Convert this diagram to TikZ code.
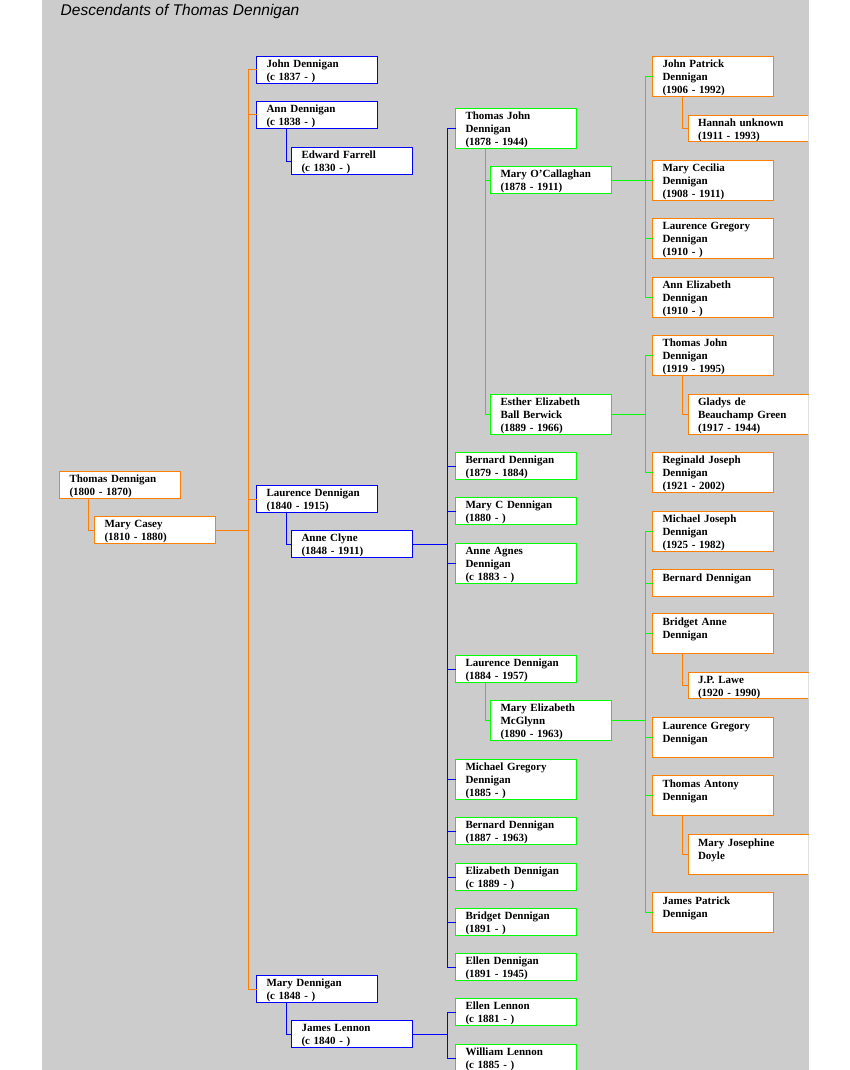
\documentclass[tikz,border=0pt]{standalone}
\usepackage{fontspec}
\setmainfont{Liberation Serif}
\newfontfamily\titlefont{Liberation Sans}
\usetikzlibrary{calc}
\definecolor{org}{HTML}{FF8000}
\definecolor{grn}{HTML}{00FF00}
\definecolor{blu}{HTML}{0000FF}
\definecolor{panel}{HTML}{CCCCCC}
\newcommand\boxfont{\fontsize{11}{13}\selectfont\bfseries}
\newcommand\topstrut{\rule{0pt}{11pt}}
\newcommand\botstrut{\rule[-2pt]{0pt}{0pt}}
\begin{document}
\begin{tikzpicture}[x=1pt,y=-1pt,
  box/.style={rectangle, draw, fill=white, line width=1pt, anchor=north west,
    inner xsep=0pt, inner ysep=0pt, outer sep=0pt, text width=101pt,
    minimum width=121pt, minimum height=27pt, align=left, font=\boxfont,
    execute at begin node=\topstrut, execute at end node=\botstrut},
  tall/.style={minimum height=40pt},
  ob/.style={box, draw=org},
  bb/.style={box, draw=blu},
  gb/.style={box, draw=grn},
  sb/.style={box, draw=none, minimum width=120pt},
  ol/.style={draw=org, line width=1pt},
  bl/.style={draw=blu, line width=1pt},
  gl/.style={draw=grn, line width=1pt},
  edge/.style={draw=black!12, line width=1pt}]
\useasboundingbox (0,0) rectangle (850,1070);
\fill[panel] (42,0) rectangle (809,1070);
\node[anchor=base west, font=\titlefont\itshape\fontsize{15.5}{17}\selectfont, inner sep=0pt] (title) at (60.5,15.5) {Descendants of Thomas Dennigan};

% bus coordinates
\coordinate (s1) at (88.5,0);
\coordinate (t2) at (248.5,0);
\coordinate (s2) at (286.5,0);
\coordinate (b3) at (447.5,0);
\coordinate (s3) at (485.5,0);
\coordinate (g4) at (645.5,0);
\coordinate (s4) at (682.5,0);

% ---------- generation 1
\node[ob] (thomas) at (59.5,471.5) {Thomas Dennigan\\(1800 - 1870)};
\node[ob] (casey) at (94.5,516.5) {Mary Casey\\(1810 - 1880)};

% ---------- generation 2
\node[bb] (john) at (256.5,56.5) {John Dennigan\\(c 1837 - )};
\node[bb] (ann) at (256.5,101.5) {Ann Dennigan\\(c 1838 - )};
\node[bb] (edward) at (291.5,147.5) {Edward Farrell\\(c 1830 - )};
\node[bb] (laurence) at (256.5,485.5) {Laurence Dennigan\\(1840 - 1915)};
\node[bb] (clyne) at (291.5,530.5) {Anne Clyne\\(1848 - 1911)};
\node[bb] (maryD) at (256.5,975.5) {Mary Dennigan\\(c 1848 - )};
\node[bb] (lennon) at (291.5,1020.5) {James Lennon\\(c 1840 - )};

% ---------- generation 3
\node[gb,tall] (tj) at (455.5,108.5) {Thomas John\\Dennigan\\(1878 - 1944)};
\node[gb] (moc) at (490.5,166.5) {Mary O'Callaghan\\(1878 - 1911)};
\node[gb,tall] (esther) at (490.5,394.5) {Esther Elizabeth\\Ball Berwick\\(1889 - 1966)};
\node[gb] (bern1) at (455.5,452.5) {Bernard Dennigan\\(1879 - 1884)};
\node[gb] (maryC) at (455.5,497.5) {Mary C Dennigan\\(1880 - )};
\node[gb,tall] (anne) at (455.5,543.5) {Anne Agnes\\Dennigan\\(c 1883 - )};
\node[gb] (lau2) at (455.5,655.5) {Laurence Dennigan\\(1884 - 1957)};
\node[gb,tall] (mcg) at (490.5,700.5) {Mary Elizabeth\\McGlynn\\(1890 - 1963)};
\node[gb,tall] (mich) at (455.5,759.5) {Michael Gregory\\Dennigan\\(1885 - )};
\node[gb] (bern2) at (455.5,817.5) {Bernard Dennigan\\(1887 - 1963)};
\node[gb] (eliz) at (455.5,863.5) {Elizabeth Dennigan\\(c 1889 - )};
\node[gb] (brid) at (455.5,908.5) {Bridget Dennigan\\(1891 - )};
\node[gb] (ellenD) at (455.5,953.5) {Ellen Dennigan\\(1891 - 1945)};
\node[gb] (ellenL) at (455.5,998.5) {Ellen Lennon\\(c 1881 - )};
\node[gb] (william) at (455.5,1044.5) {William Lennon\\(c 1885 - )};

% ---------- generation 4
\node[ob,tall] (jp) at (652.5,56.5) {John Patrick\\Dennigan\\(1906 - 1992)};
\node[sb,minimum height=26pt] (hannah) at (688.5,115.5) {Hannah unknown\\(1911 - 1993)};
\node[ob,tall] (mcec) at (652.5,160.5) {Mary Cecilia\\Dennigan\\(1908 - 1911)};
\node[ob,tall] (lg1) at (652.5,218.5) {Laurence Gregory\\Dennigan\\(1910 - )};
\node[ob,tall] (ae) at (652.5,277.5) {Ann Elizabeth\\Dennigan\\(1910 - )};
\node[ob,tall] (tj2) at (652.5,335.5) {Thomas John\\Dennigan\\(1919 - 1995)};
\node[sb,tall] (gladys) at (688.5,394.5) {Gladys de\\Beauchamp Green\\(1917 - 1944)};
\node[ob,tall] (reg) at (652.5,452.5) {Reginald Joseph\\Dennigan\\(1921 - 2002)};
\node[ob,tall] (mj) at (652.5,511.5) {Michael Joseph\\Dennigan\\(1925 - 1982)};
\node[ob] (bern3) at (652.5,569.5) {Bernard Dennigan\\};
\node[ob,tall] (ba) at (652.5,613.5) {Bridget Anne\\Dennigan\\};
\node[sb,minimum height=26pt] (jpl) at (688.5,672.5) {J.P. Lawe\\(1920 - 1990)};
\node[ob,tall] (lg2) at (652.5,717.5) {Laurence Gregory\\Dennigan\\};
\node[ob,tall] (ta) at (652.5,775.5) {Thomas Antony\\Dennigan\\};
\node[sb,tall] (mjd) at (688.5,834.5) {Mary Josephine\\Doyle\\};
\node[ob,tall] (jpat) at (652.5,892.5) {James Patrick\\Dennigan\\};

% borders of the clipped spouse boxes at the right
\foreach \n in {hannah,gladys,jpl,mjd}{
  \draw[ol] (\n.north east) -- (\n.north west) -- (\n.south west) -- (\n.south east);
  \draw[edge] (\n.north east) -- (\n.south east);
}

% ---------- connectors, generation 1 -> 2
\draw[ol] (thomas.south -| s1) |- (casey.west);
\draw[ol] (john.west) -- (john.west -| t2) -- (maryD.west -| t2) -- (maryD.west);
\draw[ol] (ann.west) -- (ann.west -| t2);
\draw[ol] (laurence.west) -- (laurence.west -| t2);
\draw[ol] (casey.east) -- (casey.east -| t2);

% spouses generation 2
\draw[bl] (ann.south -| s2) |- (edward.west);
\draw[bl] (laurence.south -| s2) |- (clyne.west);
\draw[bl] (maryD.south -| s2) |- (lennon.west);

% generation 2 -> 3
\draw[bl] (tj.west) -- (tj.west -| b3) -- (ellenD.west -| b3) -- (ellenD.west);
\foreach \n in {bern1,maryC,anne,lau2,mich,bern2,eliz,brid}
  \draw[bl] (\n.west) -- (\n.west -| b3);
\draw[bl] (clyne.east) -- (clyne.east -| b3);
\draw[bl] (ellenL.west) -- (ellenL.west -| b3) -- (william.west -| b3) -- (william.west);
\draw[bl] (lennon.east) -- (lennon.east -| b3);

% spouses generation 3
\draw[gl] (tj.south -| s3) |- (esther.west);
\draw[gl] (moc.west) -- (moc.west -| s3);
\draw[gl] (lau2.south -| s3) |- (mcg.west);

% generation 3 -> 4
\draw[gl] (jp.west) -- (jp.west -| g4) -- (ae.west -| g4) -- (ae.west);
\foreach \n in {mcec,lg1}
  \draw[gl] (\n.west) -- (\n.west -| g4);
\draw[gl] (moc.east) -- (moc.east -| g4);
\draw[gl] (tj2.west) -- (tj2.west -| g4) -- (reg.west -| g4) -- (reg.west);
\draw[gl] (esther.east) -- (esther.east -| g4);
\draw[gl] (mj.west) -- (mj.west -| g4) -- (jpat.west -| g4) -- (jpat.west);
\foreach \n in {bern3,ba,lg2,ta}
  \draw[gl] (\n.west) -- (\n.west -| g4);
\draw[gl] (mcg.east) -- (mcg.east -| g4);

% spouses generation 4
\draw[ol] (jp.south -| s4) |- (hannah.west);
\draw[ol] (tj2.south -| s4) |- (gladys.west);
\draw[ol] (ba.south -| s4) |- (jpl.west);
\draw[ol] (ta.south -| s4) |- (mjd.west);
\end{tikzpicture}
\end{document}
